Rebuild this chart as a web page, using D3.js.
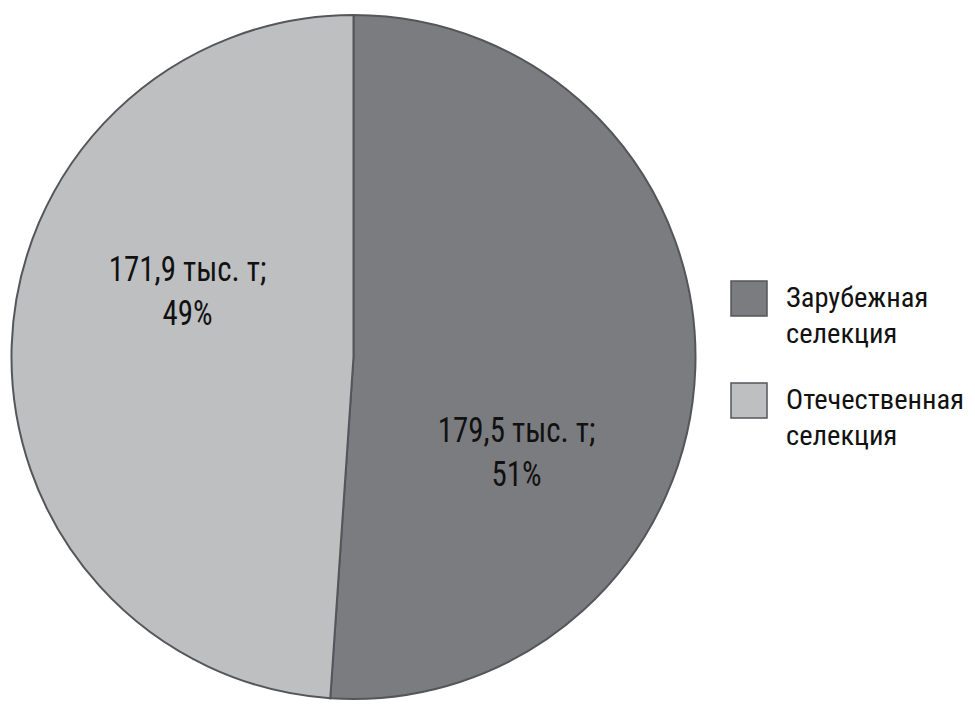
<!DOCTYPE html>
<html><head><meta charset="utf-8">
<script src="https://cdn.jsdelivr.net/npm/d3@7"></script>
<style>
html,body{margin:0;padding:0;background:#fff;}
text{font-family:"Liberation Sans Narrow","Roboto Condensed","Liberation Sans",sans-serif;fill:#111;}
</style></head>
<body><svg id="c" width="975" height="714"></svg>
<script>
const categories = ["Зарубежная селекция", "Отечественная селекция"];
const legendLines = [["Зарубежная", "селекция"], ["Отечественная", "селекция"]];
const values = [179.5, 171.9];
const percents = ["51%", "49%"];
const valueLabels = ["179,5 тыс. т;", "171,9 тыс. т;"];
const colors = ["#7b7c80", "#bebfc1"];

const svg = d3.select("#c");
const cx = 353.5, cy = 357, r = 342;
const pie = d3.pie().sort(null).value(d => d)(values);
const arc = d3.arc().innerRadius(0).outerRadius(r);
const g = svg.append("g").attr("transform", `translate(${cx},${cy})`);
g.selectAll("path").data(pie).join("path")
  .attr("d", arc)
  .attr("fill", (d, i) => colors[i])
  .attr("stroke", "#555659").attr("stroke-width", 2);

const labelPos = [[163, 442 - cy], [-166, 281 - cy]];
pie.forEach((d, i) => {
  const lgp = g.append("g").attr("transform", `translate(${labelPos[i][0]},${labelPos[i][1]}) scale(0.86,1)`);
  const t = lgp.append("text").attr("text-anchor", "middle").style("font-size", "36px");
  t.append("tspan").attr("x", 0).attr("y", 0).text(valueLabels[i]);
  t.append("tspan").attr("x", 0).attr("y", 44).text(percents[i]);
});

const lg = svg.append("g");
categories.forEach((c, i) => {
  const y0 = 281 + i * 102;
  lg.append("rect").attr("x", 731).attr("y", y0).attr("width", 36).attr("height", 35)
    .attr("fill", colors[i]).attr("stroke", "#555659").attr("stroke-width", 1.5);
  const t = lg.append("text").style("font-size", "28.5px");
  legendLines[i].forEach((ln, j) => {
    t.append("tspan").attr("x", 786).attr("y", y0 + 26 + j * 36).text(ln);
  });
});
</script></body></html>
